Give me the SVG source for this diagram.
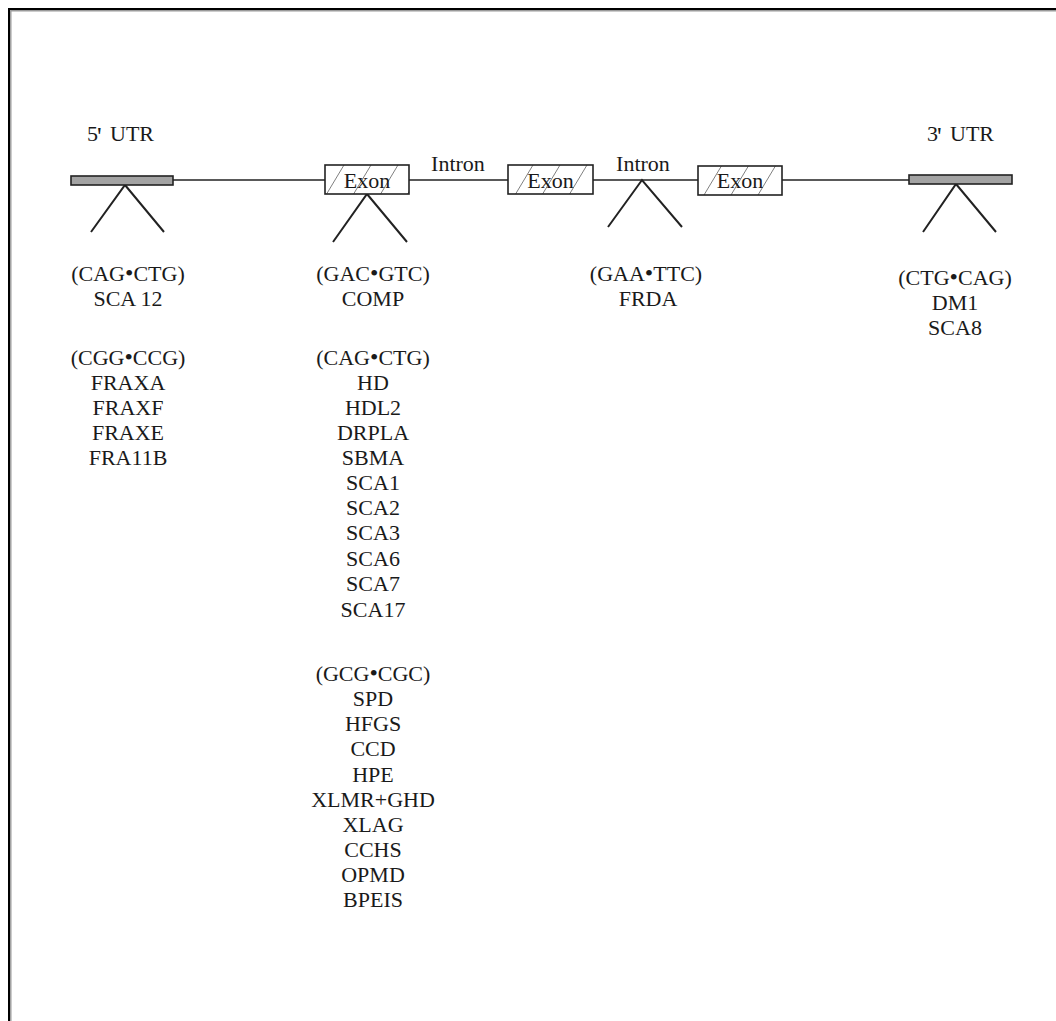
<svg xmlns="http://www.w3.org/2000/svg" width="1056" height="1021" viewBox="0 0 1056 1021">
<style>
text{font-family:"Liberation Serif","Times New Roman",serif;font-size:22px;fill:#1a1a1a}
.c{text-anchor:middle}
.b{font-size:24px}
.utr{fill:#a3a3a3;stroke:#222;stroke-width:1.6}
.exon{fill:url(#hatch);stroke:#222;stroke-width:1.6}
.ln{stroke:#222;stroke-width:1.6;fill:none}
.v{stroke:#222;stroke-width:2;fill:none}
</style>
<defs>
<pattern id="hatch" patternUnits="userSpaceOnUse" x="0" y="165" width="27" height="30">
<rect width="27" height="30" fill="#fff"/>
<line x1="2" y1="30" x2="20" y2="0" stroke="#808080" stroke-width="1"/>
</pattern>
</defs>
<rect width="1056" height="1021" fill="#fff"/>
<g id="frame">
<path d="M9,1021 V9 H1056" fill="none" stroke="#000" stroke-width="2"/>
<path d="M10.8,1021 V10.8 H1056" fill="none" stroke="#9a9a9a" stroke-width="1.4"/>
</g>
<g id="connectors">
<line class="ln" x1="173" y1="180" x2="909" y2="180"/>
<polyline class="v" points="91,232 125,185 164,232"/>
<polyline class="v" points="333,242 367,194 407,242"/>
<polyline class="v" points="608,227 642,180 682,227"/>
<polyline class="v" points="923,232 956,184 996,232"/>
</g>
<g id="utr5">
<text x="87" y="141">5<tspan x="97" y="145" font-size="26">'</tspan><tspan x="110" y="141">UTR</tspan></text>
<rect class="utr" x="71" y="176" width="102" height="9"/>
</g>
<g id="exon1">
<rect class="exon" x="325" y="165" width="84" height="29"/>
<text class="c" x="367" y="188">Exon</text>
</g>
<g id="intron1"><text class="c" x="458" y="171">Intron</text></g>
<g id="exon2">
<rect class="exon" x="508" y="165" width="85" height="29"/>
<text class="c" x="550.5" y="188">Exon</text>
</g>
<g id="intron2"><text class="c" x="643" y="171">Intron</text></g>
<g id="exon3">
<rect class="exon" x="698" y="166" width="84" height="29"/>
<text class="c" x="740" y="188">Exon</text>
</g>
<g id="utr3">
<text x="927" y="141">3<tspan x="937" y="145" font-size="26">'</tspan><tspan x="950" y="141">UTR</tspan></text>
<rect class="utr" x="909" y="175" width="103" height="9"/>
</g>
<g id="list-utr5">
<text class="c" x="128" y="281">(CAG<tspan class="b">•</tspan>CTG)</text>
<text class="c" x="128" y="306">SCA 12</text>
<text class="c" x="128" y="365">(CGG<tspan class="b">•</tspan>CCG)</text>
<text class="c" x="128" y="390">FRAXA</text>
<text class="c" x="128" y="415">FRAXF</text>
<text class="c" x="128" y="440">FRAXE</text>
<text class="c" x="128" y="465">FRA11B</text>
</g>
<g id="list-exon">
<text class="c" x="373" y="281">(GAC<tspan class="b">•</tspan>GTC)</text>
<text class="c" x="373" y="306">COMP</text>
<text class="c" x="373" y="365">(CAG<tspan class="b">•</tspan>CTG)</text>
<text class="c" x="373" y="390">HD</text>
<text class="c" x="373" y="415">HDL2</text>
<text class="c" x="373" y="440">DRPLA</text>
<text class="c" x="373" y="465">SBMA</text>
<text class="c" x="373" y="490">SCA1</text>
<text class="c" x="373" y="515">SCA2</text>
<text class="c" x="373" y="540">SCA3</text>
<text class="c" x="373" y="566">SCA6</text>
<text class="c" x="373" y="591">SCA7</text>
<text class="c" x="373" y="617">SCA17</text>
<text class="c" x="373" y="681">(GCG<tspan class="b">•</tspan>CGC)</text>
<text class="c" x="373" y="706">SPD</text>
<text class="c" x="373" y="731">HFGS</text>
<text class="c" x="373" y="756">CCD</text>
<text class="c" x="373" y="782">HPE</text>
<text class="c" x="373" y="807">XLMR+GHD</text>
<text class="c" x="373" y="832">XLAG</text>
<text class="c" x="373" y="857">CCHS</text>
<text class="c" x="373" y="882">OPMD</text>
<text class="c" x="373" y="907">BPEIS</text>
</g>
<g id="list-intron">
<text class="c" x="646" y="281">(GAA<tspan class="b">•</tspan>TTC)</text>
<text class="c" x="648" y="306">FRDA</text>
</g>
<g id="list-utr3">
<text class="c" x="955" y="285">(CTG<tspan class="b">•</tspan>CAG)</text>
<text class="c" x="955" y="310">DM1</text>
<text class="c" x="955" y="335">SCA8</text>
</g>
</svg>
